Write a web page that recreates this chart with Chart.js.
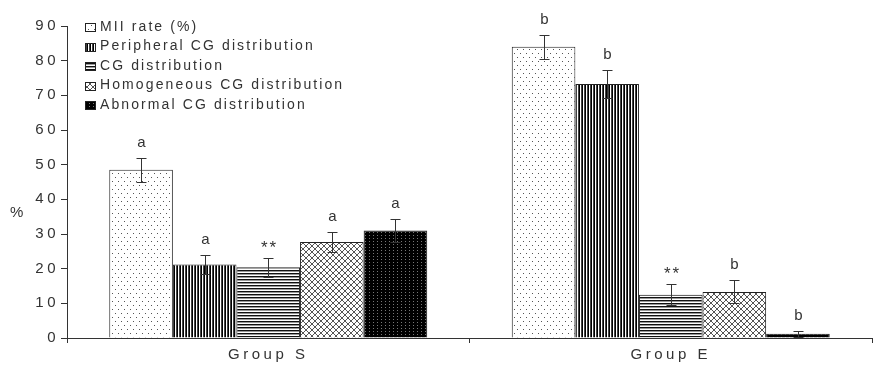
<!DOCTYPE html>
<html>
<head>
<meta charset="utf-8">
<script src="https://cdn.jsdelivr.net/npm/chart.js@4.4.1/dist/chart.umd.min.js"></script>
<style>
  html, body { margin: 0; padding: 0; background: #fff; }
</style>
</head>
<body>
<canvas id="c" width="876" height="365"></canvas>
<script>
// data
const groups = ['Group S', 'Group E'];
const seriesNames = ['MII rate (%)', 'Peripheral CG distribution', 'CG distribution',
  'Homogeneous CG distribution', 'Abnormal CG distribution'];

const miiRate = [48.5, 84];
const peripheralCG = [21.2, 73.3];
const cgDist = [20.4, 12.5];
const homogeneousCG = [27.7, 13.3];
const abnormalCG = [31, 1.2];

const miiErr = [3.4, 3.5];
const peripheralErr = [2.6, 4.1];
const cgErr = [2.8, 3];
const homogeneousErr = [3, 3.3];
const abnormalErr = [3.3, 0.8];

const miiMarks = ['a', 'b'];
const peripheralMarks = ['a', 'b'];
const cgMarks = ['**', '**'];
const homogeneousMarks = ['a', 'b'];
const abnormalMarks = ['a', 'b'];

const yMax = 90;
const yStep = 10;

const canvas = document.getElementById('c');
const ctx = canvas.getContext('2d');
const FONT = '"Liberation Sans", Arial, sans-serif';
const INK = '#333';

// small tiles for the black & white hatching
function makePattern(w, h, paint) {
  const t = document.createElement('canvas');
  t.width = w; t.height = h;
  const g = t.getContext('2d');
  paint(g);
  return ctx.createPattern(t, 'repeat');
}
function px(g, x, y, col) { g.fillStyle = col; g.fillRect(x, y, 1, 1); }

const dotFill = makePattern(6, 8, g => {
  g.fillStyle = '#fff'; g.fillRect(0, 0, 6, 8);
  px(g, 1, 1, '#555'); px(g, 4, 5, '#555');
});
const vStripeFill = makePattern(3, 1, g => {
  px(g, 0, 0, '#000'); px(g, 1, 0, '#fff'); px(g, 2, 0, '#444');
});
const hStripeFill = makePattern(1, 3, g => {
  px(g, 0, 0, '#111'); px(g, 0, 1, '#999'); px(g, 0, 2, '#fff');
});
const crossFill = makePattern(6, 6, g => {
  g.fillStyle = '#fff'; g.fillRect(0, 0, 6, 6);
  for (let i = 0; i < 6; i++) { px(g, i, i, '#555'); px(g, 5 - i, i, '#555'); }
});
const blackDotFill = makePattern(4, 3, g => {
  g.fillStyle = '#000'; g.fillRect(0, 0, 4, 3);
  px(g, 1, 1, '#777');
});

const fills = [dotFill, vStripeFill, hStripeFill, crossFill, blackDotFill];
const values = [miiRate, peripheralCG, cgDist, homogeneousCG, abnormalCG];
const errors = [miiErr, peripheralErr, cgErr, homogeneousErr, abnormalErr];
const marks = [miiMarks, peripheralMarks, cgMarks, homogeneousMarks, abnormalMarks];

// error bars + significance letters
const errorBarPlugin = {
  id: 'errorBars',
  afterDatasetsDraw(chart) {
    const c = chart.ctx;
    const y = chart.scales.y;
    c.save();
    c.strokeStyle = INK;
    c.lineWidth = 1;
    c.fillStyle = INK;
    c.textAlign = 'center';
    c.textBaseline = 'alphabetic';
    c.letterSpacing = '2px';
    chart.data.datasets.forEach((ds, i) => {
      chart.getDatasetMeta(i).data.forEach((bar, j) => {
        const v = ds.data[j];
        const e = errors[i][j];
        const top = Math.round(y.getPixelForValue(v + e)) + 0.5;
        const bot = Math.round(y.getPixelForValue(v - e)) + 0.5;
        const x = Math.round(bar.x) + 0.5;
        c.beginPath();
        c.moveTo(x, top); c.lineTo(x, bot);
        c.moveTo(x - 5, top); c.lineTo(x + 5, top);
        c.moveTo(x - 5, bot); c.lineTo(x + 5, bot);
        c.stroke();
        const m = marks[i][j];
        c.font = (m === '**' ? '17px ' : '15px ') + FONT;
        c.fillText(m, x + 1, top - (m === '**' ? 6 : 12));
      });
    });
    c.restore();
  }
};

// legend inside the plot and the "%" axis title
const legendPlugin = {
  id: 'insetLegend',
  beforeDraw(chart) {
    chart.ctx.letterSpacing = '3.5px';
  },
  afterDraw(chart) {
    const c = chart.ctx;
    c.save();
    c.font = '14px ' + FONT;
    c.letterSpacing = '2.1px';
    c.textBaseline = 'middle';
    c.textAlign = 'left';
    c.fillStyle = INK;
    seriesNames.forEach((name, i) => {
      const cy = 27 + i * 19.5;
      c.fillStyle = fills[i];
      c.fillRect(86, Math.round(cy) - 3, 9, 7);
      c.strokeStyle = '#222';
      c.lineWidth = 1;
      c.strokeRect(85.5, Math.round(cy) - 3.5, 10, 8);
      c.fillStyle = INK;
      c.fillText(name, 100, cy);
    });
    c.font = '15px ' + FONT;
    c.letterSpacing = '0px';
    c.fillText('%', 10, 213);
    c.restore();
  }
};

new Chart(ctx, {
  type: 'bar',
  data: {
    labels: groups,
    datasets: seriesNames.map((name, i) => ({
      label: name,
      data: values[i],
      backgroundColor: fills[i],
      borderColor: '#222',
      borderWidth: 1,
      categoryPercentage: 0.79,
      barPercentage: 1.0
    }))
  },
  options: {
    responsive: false,
    animation: false,
    events: [],
    layout: { padding: { top: 26, right: 4, left: 0, bottom: 0 } },
    plugins: {
      legend: { display: false },
      tooltip: { enabled: false }
    },
    scales: {
      x: {
        grid: { offset: true, drawOnChartArea: false, tickLength: 5, color: INK },
        border: { color: INK, width: 1 },
        ticks: { font: { family: FONT, size: 15 }, color: INK, padding: 3 },
        afterFit: s => { s.height = 27; }
      },
      y: {
        min: 0,
        max: yMax,
        grid: { drawOnChartArea: false, tickLength: 6, color: INK },
        border: { color: INK, width: 1 },
        ticks: { stepSize: yStep, font: { family: FONT, size: 15 }, color: INK, padding: 2 },
        afterFit: s => { s.width = 67; }
      }
    }
  },
  plugins: [errorBarPlugin, legendPlugin]
});
</script>
</body>
</html>
